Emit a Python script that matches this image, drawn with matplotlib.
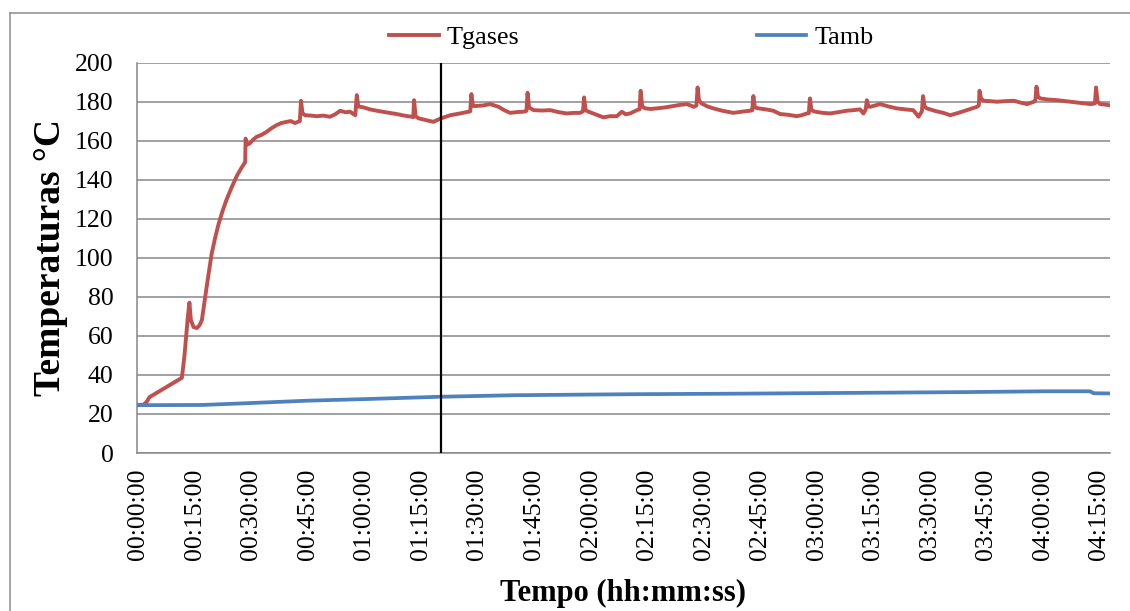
import matplotlib
matplotlib.use("Agg")
import matplotlib.pyplot as plt
from matplotlib.lines import Line2D

# Gas temperature (Tgases) — elapsed minutes and °C
tgases_min = [0, 1.5, 2.3, 3.0, 11.6, 12.3, 13.2, 13.6, 14.0, 14.7, 15.6, 16.3, 16.9, 17.5, 18.4,
              19.5, 20.4, 21.3, 22.4, 23.5, 24.8, 26.2, 27.4, 28.4, 28.5, 28.9, 29.6, 30.5, 31.5,
              32.8, 34.1, 35.5, 36.8, 38.0, 39.4, 40.5, 41.6, 42.9, 43.2, 43.6, 44.3, 45.8, 47.4,
              49.2, 50.9, 52.3, 53.6, 55.0, 56.2, 57.6, 58.0, 58.4, 59.8, 61.5, 63.3, 66.0, 68.6,
              70.6, 72.6, 73.0, 73.2, 73.6, 74.4, 76.3, 78.3, 80.1, 82.8, 85.4, 87.6, 88.1, 88.4,
              88.8, 89.4, 91.5, 93.4, 95.6, 97.2, 98.7, 100.5, 102.2, 103.0, 103.3, 103.7, 104.9,
              107.1, 109.3, 111.5, 113.7, 115.5, 117.2, 118.0, 118.3, 118.7, 119.5, 121.5, 123.4,
              125.2, 127.0, 128.3, 129.3, 130.5, 132.3, 133.0, 133.3, 133.7, 134.5, 136.0, 137.6,
              139.8, 142.0, 143.8, 145.6, 147.4, 148.1, 148.4, 148.8, 149.5, 151.0, 152.6, 155.2,
              157.9, 160.1, 162.3, 162.9, 163.2, 163.6, 164.5, 166.5, 168.5, 170.3, 172.5, 174.7,
              176.0, 177.4, 177.9, 178.2, 178.6, 179.6, 181.6, 183.6, 185.8, 188.0, 189.8, 191.5,
              192.4, 193.0, 193.3, 193.7, 194.2, 196.8, 199.0, 201.2, 203.4, 205.6, 206.5, 207.0,
              207.9, 208.2, 208.6, 209.2, 211.4, 213.6, 215.4, 217.6, 219.8, 221.2, 222.5, 223.0,
              223.2, 223.6, 224.3, 226.0, 227.8, 230.0, 232.3, 234.0, 235.8, 237.6, 238.0, 238.3,
              238.7, 239.3, 241.5, 243.8, 245.5, 247.3, 250.0, 252.6, 253.8, 254.1, 254.5, 255.2,
              256.3, 257.4, 257.8]
tgases_c = [24.5, 24.8, 26.3, 28.6, 38.5, 50, 70, 77, 68, 64.5, 64, 65.5, 68, 76, 88,
            102, 110, 117, 124, 130, 136, 142, 146, 149, 161, 158, 158.5, 160.5, 162,
            163, 164.5, 166.5, 168, 169, 169.6, 170, 169, 170, 180.4, 174, 173, 172.8, 172.5,
            172.8, 172.2, 173.5, 175.3, 174.5, 174.8, 173, 183.3, 177.5, 177, 176, 175.3, 174.4, 173.6,
            172.8, 172.2, 172, 180.7, 172.5, 171.4, 170.5, 169.6, 171.2, 173, 173.9, 174.8, 175, 183.8,
            177.8, 177.7, 178, 178.7, 177.3, 175.5, 174.2, 174.6, 174.8, 175.2, 184.5, 177, 175.6,
            175.4, 175.6, 174.6, 173.9, 174.2, 174.2, 175, 182.1, 175.5, 174.8, 173.3, 171.9,
            172.5, 172.5, 174.8, 173.5, 173.9, 175.6, 176, 185.5, 177.5, 176.5, 176.2, 176.5,
            177, 177.7, 178.3, 178.7, 177.3, 178, 187.2, 180.5, 179, 177.5, 176.5, 175.2,
            174.2, 174.8, 175.3, 175.5, 182.8, 177, 176.5, 176, 175.3, 173.6, 173.2, 172.5,
            173, 173.9, 174, 181.6, 175.5, 174.8, 174.2, 173.9, 174.6, 175.3, 175.6, 176,
            173.9, 176, 180.7, 177.5, 177.3, 178.7, 177.5, 176.5, 176, 175.6, 173.5, 172.2,
            175, 182.8, 177.5, 176.5, 175.2, 174.2, 173, 174.2, 175.6, 176.5, 177.3, 178,
            185.5, 181.5, 180.4, 180.2, 179.9, 180.2, 180.4, 179.5, 178.7, 179.9, 180.5, 187.6,
            182.5, 181.6, 181, 180.7, 180.3, 179.9, 179.3, 178.7, 179, 187.2, 180, 178.7,
            178.5, 178.2, 178]

# Ambient temperature (Tamb)
tamb_min = [0, 17.0, 30, 45, 60, 80, 100, 130, 160, 190, 220, 240, 252.5, 253.5, 257.8]
tamb_c = [24.5, 24.6, 25.6, 26.8, 27.6, 28.8, 29.6, 30.1, 30.4, 30.8, 31.2, 31.6, 31.6, 30.6, 30.5]

# Marker for the start of steady operation
steady_min = 80.3

tick_min = list(range(0, 256, 15))
tick_labels = ["00:00:00", "00:15:00", "00:30:00", "00:45:00", "01:00:00", "01:15:00",
               "01:30:00", "01:45:00", "02:00:00", "02:15:00", "02:30:00", "02:45:00",
               "03:00:00", "03:15:00", "03:30:00", "03:45:00", "04:00:00", "04:15:00"]
y_ticks = list(range(0, 201, 20))

W, H = 1130, 611
fig = plt.figure(figsize=(W / 100, H / 100), dpi=100)
plt.rcParams["font.family"] = ["Liberation Serif", "DejaVu Serif"]

ax = fig.add_axes([137 / W, 1 - 453 / H, (1110 - 137) / W, (453 - 62.5) / H])

grid_color = "#878787"
red = "#C0504D"
blue = "#4F81BD"

ax.plot(tgases_min, tgases_c, color=red, lw=2.8, label="Tgases", zorder=3,
        solid_joinstyle="round")
ax.plot(tamb_min, tamb_c, color=blue, lw=2.7, label="Tamb", zorder=3)
ax.axvline(steady_min, color="black", lw=1.6, zorder=4)

ax.set_xlim(-0.3, 257.8)
ax.set_ylim(0, 200)
ax.set_yticks(y_ticks)
ax.set_xticks(tick_min)
ax.set_xticklabels(tick_labels, rotation=90, fontsize=18.5)
ax.tick_params(axis="y", labelsize=18.5, length=0, pad=17)
ax.tick_params(axis="x", length=0, pad=11)
ax.yaxis.grid(True, color=grid_color, lw=1.1)
ax.set_axisbelow(True)
for s in ("top", "right"):
    ax.spines[s].set_visible(False)
for s in ("left", "bottom"):
    ax.spines[s].set_color(grid_color)
    ax.spines[s].set_linewidth(1.1)

ax.set_ylabel("Temperaturas °C", fontsize=27, fontweight="bold", labelpad=5)
fig.text(623 / W, 1 - 593 / H, "Tempo (hh:mm:ss)", fontsize=22, fontweight="bold",
         ha="center", va="center")

fig.legend(loc="center left", bbox_to_anchor=(389 / W, 1 - 37 / H), ncol=2,
           frameon=False, fontsize=18.8, handlelength=1.9, handletextpad=0.3,
           columnspacing=9.1, borderpad=0, borderaxespad=0)

# Chart frame (top and left edges)
fig.add_artist(Line2D([10 / W, 10 / W], [0, 1 - 13 / H], color="#8c8c8c", lw=1.1,
                      transform=fig.transFigure))
fig.add_artist(Line2D([10 / W, 1], [1 - 13 / H, 1 - 13 / H], color="#8c8c8c", lw=1.1,
                      transform=fig.transFigure))

fig.savefig("out.png", dpi=100)
